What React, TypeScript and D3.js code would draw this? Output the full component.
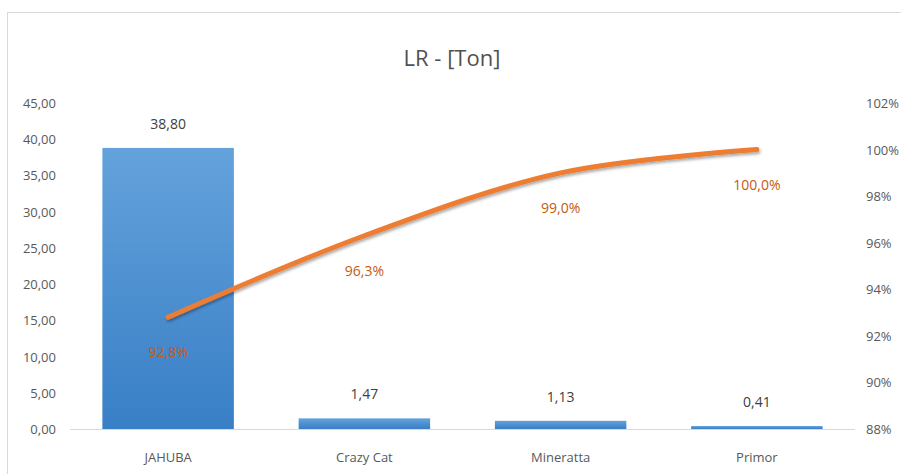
import React, { useEffect, useRef } from 'react';
import * as d3 from 'd3';

const categories = ['JAHUBA', 'Crazy Cat', 'Mineratta', 'Primor'];
const tons = [38.8, 1.47, 1.13, 0.41];
const cumulativePct = [92.8, 96.3, 99.0, 100.0];
const leftTicks = [0, 5, 10, 15, 20, 25, 30, 35, 40, 45];
const rightTicks = [88, 90, 92, 94, 96, 98, 100, 102];

const W = 901;
const H = 474;
const FONT = '"Open Sans", "Noto Sans", sans-serif';

const fmt = (v: number, d: number) => v.toFixed(d).replace('.', ',');

const App = () => {
  const ref = useRef<SVGSVGElement>(null);

  useEffect(() => {
    const svg = d3.select(ref.current);
    svg.selectAll('*').remove();

    const x = d3.scaleBand().domain(categories).range([70, 855])
      .paddingInner(0.33).paddingOuter(0.165);
    const yL = d3.scaleLinear().domain([0, 45]).range([429, 103]);
    const yR = d3.scaleLinear().domain([88, 102]).range([429, 103]);

    const defs = svg.append('defs');
    const grad = defs.append('linearGradient')
      .attr('id', 'barGrad').attr('x1', 0).attr('y1', 0).attr('x2', 0).attr('y2', 1);
    grad.append('stop').attr('offset', '0%').attr('stop-color', '#64a2db');
    grad.append('stop').attr('offset', '100%').attr('stop-color', '#387fc6');

    const shadow = defs.append('filter').attr('id', 'shadow')
      .attr('x', '-10%').attr('y', '-30%').attr('width', '120%').attr('height', '160%');
    shadow.append('feDropShadow')
      .attr('dx', 1).attr('dy', 2).attr('stdDeviation', 1.5)
      .attr('flood-color', '#000').attr('flood-opacity', 0.35);

    // chart frame
    svg.append('rect')
      .attr('x', 7.5).attr('y', 12.5).attr('width', W).attr('height', H)
      .attr('fill', '#fff').attr('stroke', '#d9d9d9');

    // title
    svg.append('text')
      .attr('x', 452).attr('y', 66).attr('text-anchor', 'middle')
      .attr('font-family', FONT).attr('font-size', 22).attr('fill', '#505050')
      .text('LR - [Ton]');

    // left axis
    svg.append('g').selectAll('text').data(leftTicks).join('text')
      .attr('x', 56).attr('y', (d) => yL(d) + 5)
      .attr('text-anchor', 'end').attr('font-family', FONT).attr('font-size', 13)
      .attr('fill', '#595959').text((d) => fmt(d, 2));

    // right axis
    svg.append('g').selectAll('text').data(rightTicks).join('text')
      .attr('x', 866).attr('y', (d) => yR(d) + 5)
      .attr('font-family', FONT).attr('font-size', 13)
      .attr('fill', '#595959').text((d) => `${d}%`);

    // bars
    svg.append('g').selectAll('rect').data(tons).join('rect')
      .attr('x', (_d, i) => x(categories[i])!)
      .attr('y', (d) => yL(d))
      .attr('width', x.bandwidth())
      .attr('height', (d) => yL(0) - yL(d))
      .attr('fill', 'url(#barGrad)');

    // baseline
    svg.append('line')
      .attr('x1', 70).attr('x2', 855).attr('y1', yL(0) + 0.5).attr('y2', yL(0) + 0.5)
      .attr('stroke', '#d9d9d9').attr('stroke-width', 1);

    // bar labels
    svg.append('g').selectAll('text').data(tons).join('text')
      .attr('x', (_d, i) => x(categories[i])! + x.bandwidth() / 2)
      .attr('y', (d) => yL(d) - 19)
      .attr('text-anchor', 'middle').attr('font-family', FONT).attr('font-size', 14)
      .attr('fill', '#404040').text((d) => fmt(d, 2));

    // category labels
    svg.append('g').selectAll('text').data(categories).join('text')
      .attr('x', (d) => x(d)! + x.bandwidth() / 2)
      .attr('y', 462)
      .attr('text-anchor', 'middle').attr('font-family', FONT).attr('font-size', 13)
      .attr('fill', '#595959').text((d) => d);

    // cumulative line
    const line = d3.line<number>()
      .x((_d, i) => x(categories[i])! + x.bandwidth() / 2)
      .y((d) => yR(d))
      .curve(d3.curveCatmullRom.alpha(0.5));
    svg.append('path')
      .datum(cumulativePct)
      .attr('d', line)
      .attr('fill', 'none')
      .attr('stroke', '#ed7d31').attr('stroke-width', 5)
      .attr('stroke-linecap', 'round')
      .attr('filter', 'url(#shadow)');

    // line labels
    svg.append('g').selectAll('text').data(cumulativePct).join('text')
      .attr('x', (_d, i) => x(categories[i])! + x.bandwidth() / 2)
      .attr('y', (d) => yR(d) + 40)
      .attr('text-anchor', 'middle').attr('font-family', FONT).attr('font-size', 14)
      .attr('fill', '#c55a11').text((d) => `${fmt(d, 1)}%`);
  }, []);

  return (
    <div style={{ position: 'absolute', left: 0, top: 0 }}>
      <svg ref={ref} width={W} height={H} style={{ display: 'block' }}></svg>
    </div>
  );
};

export default App;
